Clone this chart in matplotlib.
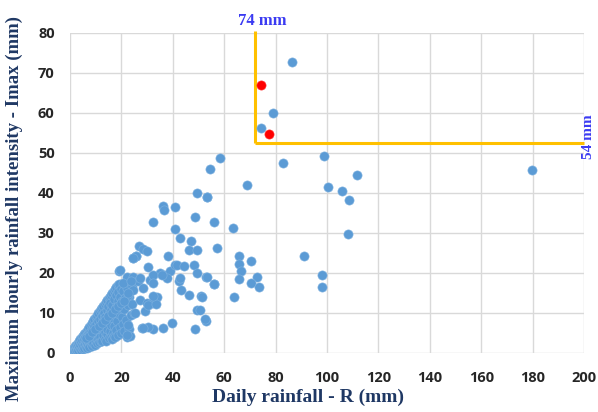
import matplotlib
matplotlib.use("Agg")
import matplotlib.pyplot as plt

# ---- data ----
# dense cluster near the origin + scattered points
rain_mm = [
    0.2, 0.4, 0.5, 0.7, 0.8, 1.0, 1.0, 1.2, 1.3, 1.5, 1.5, 1.7, 1.8, 2.0, 2.0, 2.1, 2.3, 2.5, 2.5, 2.7,
    2.8, 3.0, 3.0, 3.2, 3.3, 3.5, 3.5, 3.7, 3.8, 4.0, 4.0, 4.1, 4.3, 4.5, 4.5, 4.7, 4.8, 5.0, 5.0, 5.1,
    5.3, 5.5, 5.5, 5.6, 5.8, 6.0, 6.0, 6.1, 6.3, 6.5, 6.5, 6.6, 6.8, 7.0, 7.0, 7.1, 7.3, 7.5, 7.5, 7.6,
    7.8, 8.0, 8.0, 8.1, 8.3, 8.5, 8.5, 8.6, 8.8, 9.0, 9.0, 9.1, 9.3, 9.5, 9.5, 9.6, 9.8, 10.0, 10.0, 10.1,
    10.3, 10.5, 10.5, 10.6, 10.8, 11.0, 11.0, 11.1, 11.3, 11.5, 11.5, 11.6, 11.8, 12.0, 12.0, 12.1, 12.3, 12.5, 12.5, 12.6,
    12.8, 13.0, 13.0, 13.1, 13.3, 13.5, 13.5, 13.6, 13.8, 14.0, 14.0, 14.1, 14.3, 14.5, 14.5, 14.6, 14.8, 15.0, 15.0, 15.1,
    15.3, 15.5, 15.5, 15.6, 15.8, 16.0, 16.0, 16.1, 16.3, 16.5, 16.5, 16.6, 16.8, 17.0, 17.0, 17.1, 17.3, 17.5, 17.5, 17.6,
    17.8, 18.0, 18.0, 18.1, 18.3, 18.5, 18.5, 18.6, 18.8, 19.0, 19.0, 19.2, 19.3, 19.5, 19.6, 19.8, 20.0, 20.2, 20.4, 20.5,
    20.8, 21.0, 21.2, 21.5, 21.8, 22.1, 22.1, 22.3, 22.5, 22.8, 23.0, 23.4, 23.6, 24.0, 24.3, 24.7, 25.0, 25.7,
    19.5, 20.8, 22.7, 24.7, 26.6, 24.7, 27.3, 25.3, 29.9, 33.8, 28.6, 31.2, 35.1, 36.4, 39.0, 40.9, 29.2, 31.8,
    27.3, 32.5, 30.5, 33.5, 27.9, 22.7, 22.3, 32.2, 37.7, 35.7, 32.2,
    26.8, 28.6, 29.9, 25.7, 24.7, 30.5, 41.6, 38.2, 44.4, 48.3, 49.4, 53.0, 56.1, 42.6, 43.2, 46.5, 51.0,
    49.6, 53.0, 48.5, 39.6, 36.1, 32.5, 30.5, 28.3,
    36.1, 36.6, 40.9, 48.6, 32.2, 55.9, 40.8, 42.9, 47.2, 57.2, 46.5, 49.4, 42.9,
    49.6, 53.5, 54.6, 58.2, 53.4, 63.4, 65.6, 70.4, 65.9, 66.7, 65.6, 72.8, 70.4, 73.7, 53.3, 55.9, 63.9, 51.3,
    50.7, 52.6, 68.9,
    74.5, 78.9, 86.2, 82.9, 98.9, 111.8, 100.4, 105.9, 108.5, 108.1, 91.2, 98.1, 98.1, 179.6,
    # extra points filling the dense blob
    6.2, 7.4, 8.7, 9.9, 11.2, 12.4, 13.7, 14.9, 16.2, 17.4, 18.7, 19.9, 21.1, 22.4, 23.7,
]
imax_mm = [
    0.1, 0.3, 0.2, 0.5, 0.3, 0.6, 0.2, 0.9, 0.4, 1.1, 0.6, 0.3, 1.4, 0.8, 1.7, 0.4, 1.2, 2.0, 0.7, 1.6,
    0.5, 2.5, 1.0, 2.0, 0.6, 2.9, 1.4, 2.4, 0.9, 3.3, 1.8, 0.7, 2.6, 3.8, 1.2, 2.1, 3.2, 4.2, 0.9, 1.6,
    2.8, 4.6, 3.5, 1.2, 2.2, 5.0, 4.0, 1.5, 3.0, 5.4, 2.5, 1.1, 4.4, 5.9, 3.4, 1.8, 2.7, 6.3, 4.8, 1.4,
    3.8, 6.8, 5.4, 2.2, 3.0, 7.3, 4.3, 1.7, 6.0, 7.8, 3.6, 2.5, 5.0, 8.3, 6.6, 2.0, 4.2, 8.8, 7.2, 3.0,
    5.6, 9.2, 2.4, 4.6, 7.8, 9.8, 6.2, 3.4, 2.6, 10.3, 8.4, 5.0, 4.0, 10.8, 7.0, 3.0, 9.2, 11.2, 5.6, 2.8,
    8.0, 11.6, 4.4, 6.6, 10.0, 12.2, 3.4, 9.0, 5.2, 12.6, 7.4, 3.0, 10.6, 13.1, 4.6, 6.0, 11.6, 13.6, 8.4, 3.6,
    9.6, 14.0, 5.4, 12.4, 4.0, 14.5, 7.0, 10.6, 3.4, 15.0, 12.0, 5.0, 8.6, 15.4, 13.4, 4.2, 6.6, 16.0, 10.0, 3.8,
    14.4, 16.4, 11.4, 5.6, 8.0, 17.0, 13.0, 4.4, 15.2, 17.2, 9.6, 20.3, 6.4, 14.0, 11.8, 16.0, 4.8, 12.8, 9.0, 7.2,
    15.4, 5.4, 10.8, 13.6, 8.2, 4.0, 19.0, 16.2, 11.8, 6.0, 14.0, 4.2, 9.4, 12.2, 16.6, 23.6, 10.0, 24.2,
    20.7, 17.5, 14.5, 19.0, 17.8, 15.7, 13.2, 9.8, 12.3, 14.0, 16.1, 18.2, 19.8, 19.4, 20.3, 21.9, 10.3, 12.3,
    18.6, 19.4, 11.9, 12.2, 6.1, 6.9, 4.3, 17.3, 18.6, 19.4, 14.2,
    26.7, 26.0, 25.4, 24.2, 23.6, 21.3, 21.9, 24.2, 21.7, 21.9, 20.0, 19.0, 17.2, 18.0, 15.7, 14.4, 14.2,
    10.7, 7.9, 5.9, 7.5, 6.1, 5.8, 6.3, 6.1,
    36.7, 35.7, 36.3, 34.0, 32.6, 32.6, 31.0, 28.6, 27.9, 26.2, 25.7, 25.7, 18.6,
    40.0, 38.8, 45.8, 48.6, 39.0, 31.1, 24.2, 22.9, 22.2, 20.3, 18.4, 19.0, 17.3, 16.3, 19.0, 17.2, 14.0, 14.0,
    10.7, 8.3, 41.8,
    56.1, 60.0, 72.6, 47.3, 49.2, 44.3, 41.3, 40.3, 38.2, 29.6, 24.2, 19.3, 16.5, 45.7,
    3.6, 4.2, 5.1, 5.8, 6.7, 7.4, 8.2, 9.1, 9.9, 10.8, 11.6, 12.4, 13.0, 15.0, 17.8,
]
red_rain_mm = [74.5, 77.5]
red_imax_mm = [66.9, 54.6]

thr_rain = 72.1      # vertical threshold line position (labelled 74 mm)
thr_imax = 52.3      # horizontal threshold line position (labelled 54 mm)
x_ticks = list(range(0, 201, 20))
y_ticks = list(range(0, 81, 10))

# ---- figure ----
fig = plt.figure(figsize=(5.98, 4.12), dpi=100)
ax = fig.add_axes([0.117, 0.144, 0.8596, 0.7766])

blue = "#5B9BD5"
ax.scatter(rain_mm, imax_mm, s=44, color=blue, edgecolors="#7FB2E0", linewidths=0.4, zorder=3)
ax.scatter(red_rain_mm, red_imax_mm, s=44, color="#FF0000", edgecolors="#FF3030", linewidths=0.4, zorder=4)

ax.set_xlim(0, 200)
ax.set_ylim(0, 80)
ax.set_xticks(x_ticks)
ax.set_yticks(y_ticks)
ax.grid(True, color="#D9D9D9", linewidth=1.0, zorder=0)
ax.set_axisbelow(True)
for s in ax.spines.values():
    s.set_visible(False)
ax.tick_params(axis="x", length=0, pad=13)
ax.tick_params(axis="y", length=0, pad=11)
for lab in ax.get_xticklabels() + ax.get_yticklabels():
    lab.set_fontfamily("Open Sans")
    lab.set_fontweight("bold")
    lab.set_fontsize(10.5)
    lab.set_color("#262626")

orange = "#FFC000"
ax.plot([thr_rain, thr_rain], [thr_imax, 80.4], color=orange, lw=2.2, clip_on=False, zorder=2,
        solid_capstyle="butt")
ax.plot([thr_rain, 200], [thr_imax, thr_imax], color=orange, lw=2.2, clip_on=False, zorder=2,
        solid_capstyle="butt")

lab_blue = "#3B3BF2"
ax.text(74.9, 83.0, "74 mm", ha="center", va="center", fontsize=12, fontweight="bold",
        family="Liberation Serif", color=lab_blue, clip_on=False)
ax.text(199.3, 54.0, "54 mm", ha="left", va="center", rotation=90, fontsize=11, fontweight="bold",
        family="Liberation Serif", color=lab_blue, clip_on=False)

navy = "#1F3864"
ax.set_xlabel("Daily rainfall - R (mm)", fontsize=14, fontweight="bold", family="Liberation Serif",
              color=navy)
ax.xaxis.set_label_coords(0.463, -0.114)
ax.set_ylabel("Maximum hourly rainfall intensity - Imax (mm)", fontsize=13.5, fontweight="bold",
              family="Liberation Serif", color=navy)
ax.yaxis.set_label_coords(-0.091, 0.45)

fig.savefig("out.png", dpi=100)
